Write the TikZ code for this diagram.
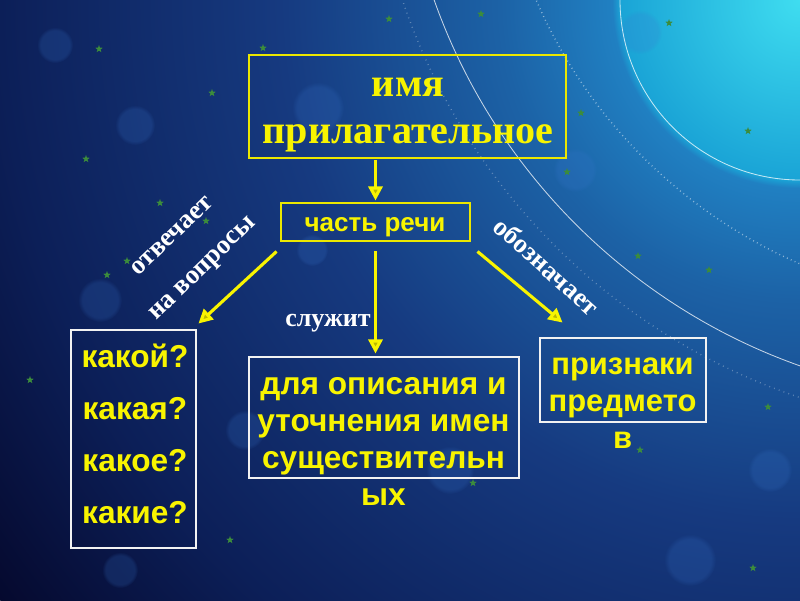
\documentclass[tikz,border=0pt]{standalone}
\usepackage{fontspec}
\setmainfont{Liberation Serif}
\newfontfamily\sansf{Liberation Sans}
\usetikzlibrary{arrows.meta,fadings}
\definecolor{yel}{HTML}{F8F400}
\definecolor{ybord}{HTML}{ECE800}
\definecolor{wbord}{HTML}{F2F2F2}
\definecolor{cA}{HTML}{3FDDF0}
\definecolor{cB}{HTML}{1AA4D6}
\definecolor{cC}{HTML}{2080C2}
\definecolor{cD}{HTML}{1C62A6}
\definecolor{cE}{HTML}{163A80}
\definecolor{cF}{HTML}{0C1F58}
\definecolor{cG}{HTML}{05092E}
\definecolor{starcol}{HTML}{3C8C3C}
\definecolor{bokeh}{HTML}{3A78D0}
\pgfdeclareradialshading{bgshade}{\pgfpoint{0bp}{0bp}}{color(0bp)=(cA); color(4.5bp)=(cB); color(4.7bp)=(cC); color(7.5bp)=(cD); color(13bp)=(cE); color(20bp)=(cF); color(25bp)=(cG); color(50bp)=(cG)}
\newcommand{\pxx}[1]{#1*0.025cm}
\begin{document}
\begin{tikzpicture}[x=0.025cm,y=-0.025cm,
  ybox/.style={draw=ybord, line width=2.1pt, rectangle, inner sep=0pt},
  wbox/.style={draw=wbord, line width=2.1pt, rectangle, inner sep=0pt},
  yarrow/.style={draw=yel, line width=2.2pt, -{Triangle[length=10pt,width=10pt,fill=yel!75!black]}},
  toptext/.style={text=yel, font=\fontsize{28.5}{34}\selectfont\bfseries, align=center, inner sep=0pt},
  sanstext/.style={text=yel, font=\sansf\fontsize{22.5}{26.3}\selectfont\bfseries, align=center, inner sep=0pt},
  lbl/.style={text=white, font=\fontsize{19}{20}\selectfont\bfseries, inner sep=0pt}]
\useasboundingbox (0,0) rectangle (800,600);
% background
\begin{scope}
\clip (0,0) rectangle (800,600);
\fill[cG] (0,0) rectangle (800,600);
\shade[shading=bgshade] (800,0) circle (1000);
\foreach \c/\r in {(55,45)/18,(135,125)/20,(318,108)/26,(312,250)/16,(640,32)/22,(100,300)/22,(245,430)/20,(770,470)/22,(690,560)/26,(450,470)/24,(120,570)/18,(575,170)/22}
  \fill[bokeh, opacity=0.2, path fading=circle with fuzzy edge 20 percent] \c circle (\r);
\draw[white, opacity=0.75, line width=0.6pt] (1000,-200) circle (600);
\draw[white, opacity=0.75, line width=0.6pt] (800,0) circle (180);
\draw[white, opacity=0.5, line width=1pt, dash pattern=on 0.6pt off 2.4pt] (1000,-200) circle (505);
\draw[white, opacity=0.3, line width=1pt, dash pattern=on 0.6pt off 3pt] (1000,-200) circle (630);
\foreach \p in {(99,49),(263,48),(212,93),(86,159),(160,203),(206,221),(127,261),(107,275),(389,19),(481,14),(669,23),(581,113),(748,131),(567,172),(638,256),(709,270),(768,407),(473,483),(640,450),(753,568),(230,540),(30,380)}
  \fill[starcol, shift={\p}] (270:4) -- (306:1.6) -- (342:4) -- (18:1.6) -- (54:4) -- (90:1.6) -- (126:4) -- (162:1.6) -- (198:4) -- (234:1.6) -- cycle;
\end{scope}
% boxes
\node[ybox, minimum width=\pxx{317}, minimum height=\pxx{103}] (top) at (407.5,106.5) {};
\node[toptext] (toptxt) at (408,115) {имя\\прилагательное};
\node[ybox, minimum width=\pxx{189}, minimum height=\pxx{38}] (part) at (375.5,222) {};
\node[text=yel, font=\sansf\fontsize{18.5}{20}\selectfont\bfseries, inner sep=0pt] (parttxt) at (375,227) {часть речи};
\node[wbox, minimum width=\pxx{125}, minimum height=\pxx{218}] (left) at (133.5,439) {};
\node[sanstext, font=\sansf\fontsize{22.5}{37}\selectfont\bfseries] (lefttxt) at (135,434) {какой?\\какая?\\какое?\\какие?};
\node[wbox, minimum width=\pxx{270}, minimum height=\pxx{121}] (mid) at (384,417.5) {};
\node[sanstext] (midtxt) at (383.5,441) {для описания и\\уточнения имен\\существительн\\ых};
\node[wbox, minimum width=\pxx{166}, minimum height=\pxx{84}] (right) at (623,380) {};
\node[sanstext, font=\sansf\fontsize{22}{26.3}\selectfont\bfseries] (righttxt) at (622.5,403) {признаки\\предмето\\в};
% arrows
\draw[yarrow] ([shift={(0,1)}]top.south -| part.north) -- ([shift={(0,-1)}]part.north);
\draw[yarrow] ([shift={(-3,9)}]part.south west) -- ([shift={(1,-5)}]left.north east);
\draw[yarrow] ([shift={(0,9)}]part.south) -- ([shift={(0,-2)}]part.south |- mid.north);
\draw[yarrow] ([shift={(6,9)}]part.south east) -- ([shift={(24,-14)}]right.north west);
% labels
\node[lbl, rotate=44] (otv) at (172,236) {отвечает};
\node[lbl, rotate=44] (nav) at (204,270) {на вопросы};
\node[lbl, rotate=-42] (obo) at (547,266) {обозначает};
\node[lbl, font=\fontsize{18.5}{20}\selectfont\bfseries] (sl) at (328,323) {служит};
\end{tikzpicture}
\end{document}
